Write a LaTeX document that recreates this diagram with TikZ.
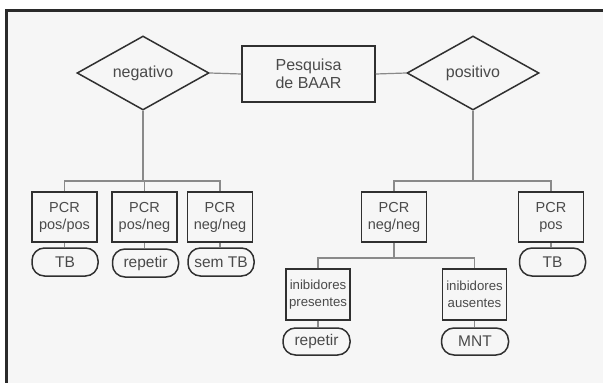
\documentclass[tikz,border=0pt]{standalone}
\usepackage{fontspec}
\setmainfont{Liberation Sans}
\usetikzlibrary{shapes.geometric}
\definecolor{bgc}{HTML}{F6F6F6}
\definecolor{framec}{HTML}{2A2A2A}
\definecolor{edgec}{HTML}{303030}
\definecolor{linec}{HTML}{8A8A8A}
\definecolor{txtc}{HTML}{4A4A4A}
\tikzset{
  every node/.style={text=txtc},
  dia/.style={diamond, draw=edgec, line width=1.5pt, fill=bgc, inner sep=0pt, aspect=1.78,
    minimum width=132pt, minimum height=74pt, font=\fontsize{16}{18}\selectfont},
  topbox/.style={rectangle, draw=edgec, line width=1.5pt, fill=bgc, inner sep=0pt,
    minimum width=133pt, minimum height=56pt, align=center, font=\fontsize{16}{17.5}\selectfont},
  pcrbox/.style={rectangle, draw=edgec, line width=1.5pt, fill=bgc, inner sep=0pt,
    minimum width=65pt, minimum height=50pt, align=center, font=\fontsize{14.5}{17}\selectfont},
  inibox/.style={rectangle, draw=edgec, line width=1.5pt, fill=bgc, inner sep=0pt,
    minimum width=64pt, minimum height=51pt, align=center, font=\fontsize{13.2}{16.5}\selectfont},
  pill/.style={rectangle, rounded corners=12.5pt, draw=edgec, line width=1.5pt, fill=bgc, inner sep=0pt,
    minimum width=66pt, minimum height=28pt, font=\fontsize{15.5}{17}\selectfont},
  conn/.style={draw=linec, line width=1.2pt},
}
\begin{document}
\begin{tikzpicture}[x=1pt,y=-1pt]
\useasboundingbox (0,0) rectangle (603,383);
\fill[white] (0,0) rectangle (603,383);
\fill[bgc] (6.5,10.5) rectangle (603,383);
\draw[framec, line width=3pt] (6.5,383) -- (6.5,10.5) -- (603,10.5);

% top row
\node[dia] (neg) at (143,73) {negativo};
\node[topbox] (baar) at (308.5,74) {Pesquisa\\de BAAR};
\node[dia] (pos) at (473,73) {positivo};

% PCR boxes
\node[pcrbox] (b1) at (64.5,217) {PCR\\pos/pos};
\node[pcrbox] (b2) at (144.5,217) {PCR\\pos/neg};
\node[pcrbox] (b3) at (220,217) {PCR\\neg/neg};
\node[pcrbox] (b4) at (394,217) {PCR\\neg/neg};
\node[pcrbox] (b5) at (551,217) {PCR\\pos};

% pills
\node[pill] (p1) at (65,262) {TB};
\node[pill] (p2) at (145.5,263) {repetir};
\node[pill] (p3) at (221,262) {sem TB};
\node[pill] (p5) at (552.5,262) {TB};

% inhibitors
\node[inibox] (i1) at (318,294.5) {inibidores\\presentes};
\node[inibox] (i2) at (474.5,294.5) {inibidores\\ausentes};
\node[pill, minimum width=67pt, minimum height=27pt] (p6) at (316.5,341.5) {repetir};
\node[pill, minimum width=67pt, minimum height=27pt] (p7) at (475,341.5) {MNT};

% junctions
\coordinate (j1) at (143,181);
\coordinate (j2) at (473,181);
\coordinate (j3) at (394,258);

% connectors
\draw[conn] (neg.east) -- (baar.west);
\draw[conn] (baar.east) -- (pos.west);

\draw[conn] (neg.south) -- (j1);
\draw[conn] (b1.north) |- (j1) -| (b3.north);
\draw[conn] (b2.north) -- (b2.north |- j1);

\draw[conn] (pos.south) -- (j2);
\draw[conn] (b4.north) |- (j2) -| (b5.north);

\draw[conn] (b4.south) -- (j3);
\draw[conn] (i1.north) |- (j3) -| (i2.north);

\draw[conn] (b1.south) -- (b1.south |- p1.north);
\draw[conn] (b2.south) -- (b2.south |- p2.north);
\draw[conn] (b3.south) -- (b3.south |- p3.north);
\draw[conn] (b5.south) -- (b5.south |- p5.north);
\draw[conn] (i1.south) -- (i1.south |- p6.north);
\draw[conn] (i2.south) -- (i2.south |- p7.north);
\end{tikzpicture}
\end{document}
